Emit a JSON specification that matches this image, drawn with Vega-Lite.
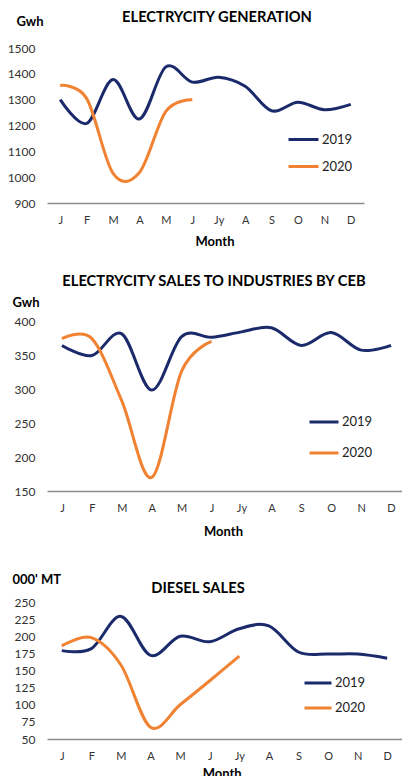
{
  "$schema": "https://vega.github.io/schema/vega-lite/v6.json",
  "padding": {"left": 7, "top": 10, "right": 0, "bottom": 0},
  "background": "white",
  "bounds": "flush",
  "spacing": 111,
  "resolve": {"legend": {"color": "independent"}},
  "config": {
    "font": "Lato",
    "view": {"stroke": null},
    "axis": {"grid": false, "ticks": false, "labelFont": "Lato", "labelColor": "#333333", "titleFont": "Lato", "titleColor": "#000000", "titleFontWeight": "bold", "titleFontSize": 13},
    "axisY": {"domain": false, "labelPadding": 12, "labelFontSize": 12, "titleAngle": 0, "titleAlign": "left", "titleBaseline": "alphabetic", "format": "d"},
    "axisX": {"domainColor": "#8c8c8c", "domainWidth": 1.5, "labelPadding": 11, "labelAngle": 0, "labelFontSize": 11, "titleBaseline": "alphabetic", "titleAlign": "center"},
    "line": {"strokeWidth": 3, "interpolate": "cardinal"},
    "title": {"font": "Lato", "fontSize": 14.7, "fontWeight": "bold", "color": "#000000", "anchor": "middle", "frame": "group", "baseline": "alphabetic"},
    "legend": {"orient": "none", "title": null, "symbolType": "stroke", "symbolStrokeWidth": 3, "labelFont": "Lato", "labelFontSize": 13, "labelColor": "#222222", "labelOffset": 2, "padding": 0}
  },
  "datasets": {
    "gen": [
      {"m": 1, "yr": "2019", "v": 1300}, {"m": 2, "yr": "2019", "v": 1208}, {"m": 3, "yr": "2019", "v": 1378}, {"m": 4, "yr": "2019", "v": 1225},
      {"m": 5, "yr": "2019", "v": 1427}, {"m": 6, "yr": "2019", "v": 1368}, {"m": 7, "yr": "2019", "v": 1387}, {"m": 8, "yr": "2019", "v": 1352},
      {"m": 9, "yr": "2019", "v": 1257}, {"m": 10, "yr": "2019", "v": 1290}, {"m": 11, "yr": "2019", "v": 1261}, {"m": 12, "yr": "2019", "v": 1282},
      {"m": 1, "yr": "2020", "v": 1355}, {"m": 2, "yr": "2020", "v": 1305}, {"m": 3, "yr": "2020", "v": 1015}, {"m": 4, "yr": "2020", "v": 1018},
      {"m": 5, "yr": "2020", "v": 1255}, {"m": 6, "yr": "2020", "v": 1300}
    ],
    "sales": [
      {"m": 1, "yr": "2019", "v": 365}, {"m": 2, "yr": "2019", "v": 350}, {"m": 3, "yr": "2019", "v": 382}, {"m": 4, "yr": "2019", "v": 299},
      {"m": 5, "yr": "2019", "v": 378}, {"m": 6, "yr": "2019", "v": 377}, {"m": 7, "yr": "2019", "v": 385}, {"m": 8, "yr": "2019", "v": 391},
      {"m": 9, "yr": "2019", "v": 365}, {"m": 10, "yr": "2019", "v": 384}, {"m": 11, "yr": "2019", "v": 358}, {"m": 12, "yr": "2019", "v": 365},
      {"m": 1, "yr": "2020", "v": 375}, {"m": 2, "yr": "2020", "v": 375}, {"m": 3, "yr": "2020", "v": 283}, {"m": 4, "yr": "2020", "v": 170},
      {"m": 5, "yr": "2020", "v": 327}, {"m": 6, "yr": "2020", "v": 371}
    ],
    "diesel": [
      {"m": 1, "yr": "2019", "v": 179}, {"m": 2, "yr": "2019", "v": 182}, {"m": 3, "yr": "2019", "v": 229}, {"m": 4, "yr": "2019", "v": 172},
      {"m": 5, "yr": "2019", "v": 200}, {"m": 6, "yr": "2019", "v": 192}, {"m": 7, "yr": "2019", "v": 211}, {"m": 8, "yr": "2019", "v": 215},
      {"m": 9, "yr": "2019", "v": 177}, {"m": 10, "yr": "2019", "v": 174}, {"m": 11, "yr": "2019", "v": 174}, {"m": 12, "yr": "2019", "v": 168},
      {"m": 1, "yr": "2020", "v": 186}, {"m": 2, "yr": "2020", "v": 198}, {"m": 3, "yr": "2020", "v": 158}, {"m": 4, "yr": "2020", "v": 67},
      {"m": 5, "yr": "2020", "v": 100}, {"m": 6, "yr": "2020", "v": 135}, {"m": 7, "yr": "2020", "v": 171}
    ]
  },
  "vconcat": [
    {
      "data": {"name": "gen"},
      "width": 317, "height": 155,
      "title": {"text": "ELECTRYCITY GENERATION", "dx": 11.5, "offset": 26, "dy": 36},
      "mark": {"type": "line"},
      "encoding": {
        "x": {"field": "m", "type": "ordinal", "scale": {"type": "point", "padding": 0.5},
              "axis": {"title": "Month", "titleX": 167.5, "titleY": 42.5, "labelExpr": "['J','F','M','A','M','J','Jy','A','S','O','N','D'][datum.value-1]"}},
        "y": {"field": "v", "type": "quantitative", "scale": {"domain": [900, 1500], "nice": false, "zero": false},
              "axis": {"values": [900, 1000, 1100, 1200, 1300, 1400, 1500], "title": "Gwh", "titleX": -31, "titleY": -23}},
        "color": {"field": "yr", "type": "nominal", "scale": {"domain": ["2019", "2020"], "range": ["#1B2A6B", "#F08232"]},
                  "legend": {"legendX": 240, "legendY": 75, "symbolSize": 900, "rowPadding": 3}}
      }
    },
    {
      "data": {"name": "sales"},
      "width": 359, "height": 177,
      "title": {"text": "ELECTRYCITY SALES TO INDUSTRIES BY CEB", "dx": -12.5, "offset": 29, "dy": 22},
      "mark": {"type": "line"},
      "encoding": {
        "x": {"field": "m", "type": "ordinal", "scale": {"type": "point", "padding": 0.5},
              "axis": {"title": "Month", "titleX": 176, "titleY": 44.5, "labelExpr": "['J','F','M','A','M','J','Jy','A','S','O','N','D'][datum.value-1]"}},
        "y": {"field": "v", "type": "quantitative", "scale": {"domain": [150, 411.4], "nice": false, "zero": false},
              "axis": {"values": [150, 200, 250, 300, 350, 400], "title": "Gwh", "titleX": -35, "titleY": -8}},
        "color": {"field": "yr", "type": "nominal", "scale": {"domain": ["2019", "2020"], "range": ["#1B2A6B", "#F08232"]},
                  "legend": {"legendX": 261, "legendY": 92, "symbolSize": 841, "rowPadding": 8}}
      }
    },
    {
      "data": {"name": "diesel"},
      "width": 355, "height": 137,
      "title": {"text": "DIESEL SALES", "dx": -26.5, "offset": 11, "dy": 34},
      "mark": {"type": "line"},
      "encoding": {
        "x": {"field": "m", "type": "ordinal", "scale": {"type": "point", "padding": 0.5},
              "axis": {"title": "Month", "titleX": 174.7, "titleY": 38.5, "labelExpr": "['J','F','M','A','M','J','Jy','A','S','O','N','D'][datum.value-1]"}},
        "y": {"field": "v", "type": "quantitative", "scale": {"domain": [50, 250], "nice": false, "zero": false},
              "axis": {"values": [50, 75, 100, 125, 150, 175, 200, 225, 250], "title": "000' MT", "titleX": -35, "titleY": -19}},
        "color": {"field": "yr", "type": "nominal", "scale": {"domain": ["2019", "2020"], "range": ["#1B2A6B", "#F08232"]},
                  "legend": {"legendX": 256, "legendY": 66, "symbolSize": 729, "rowPadding": 3}}
      }
    }
  ]
}
